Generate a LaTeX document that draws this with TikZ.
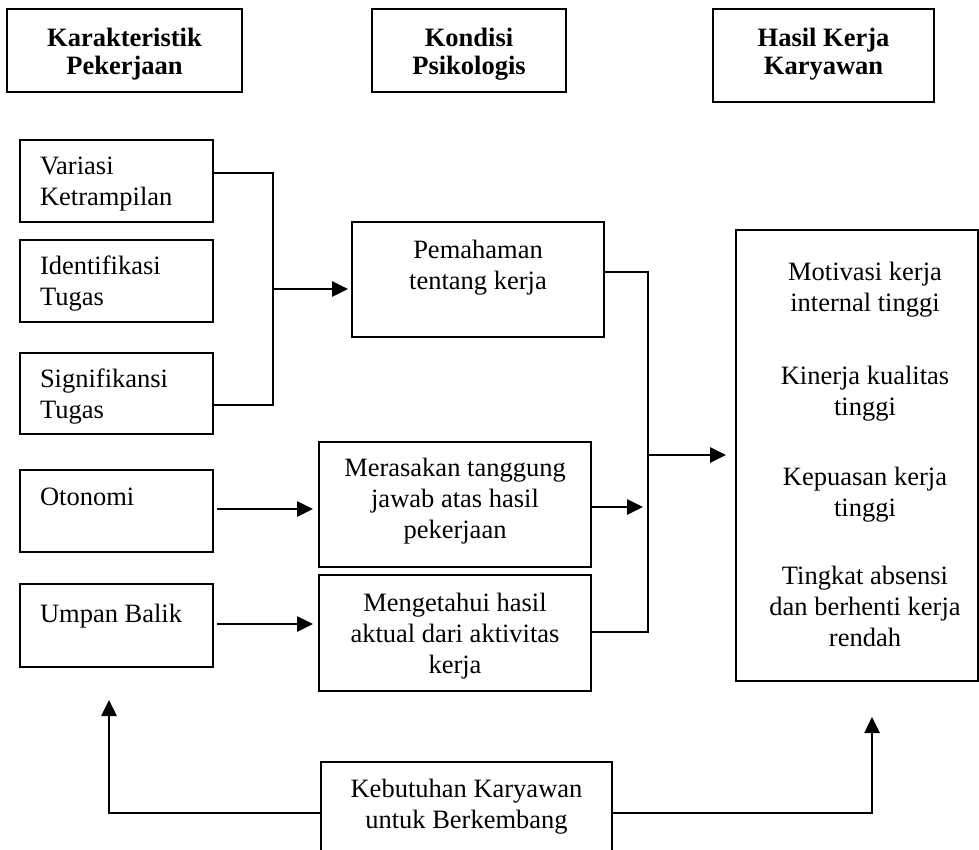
\documentclass[tikz,border=0pt]{standalone}
\usepackage{fontspec}
\setmainfont{Liberation Serif}
\usetikzlibrary{arrows.meta}
\newcommand\fst{\rule{0pt}{20pt}}
\begin{document}
\begin{tikzpicture}[x=1pt,y=-1pt,
  box/.style={draw, line width=2pt, inner sep=0pt, outer sep=0pt, anchor=north west},
  hbox/.style={box, line width=2.5pt},
  txt/.style={inner sep=0pt, outer sep=0pt, font=\fontsize{26.5}{31}\selectfont},
  txtl/.style={txt, align=left, anchor=north west},
  txtc/.style={txt, align=center, anchor=north},
  hdr/.style={inner sep=0pt, outer sep=0pt, align=center, anchor=north, font=\fontsize{26.5}{28}\selectfont\bfseries},
  conn/.style={line width=2pt},
  arr/.style={line width=2.6pt, -{Triangle[length=16pt,width=15pt]}}]
\useasboundingbox (0,0) rectangle (979,850);
\clip (0,0) rectangle (979,850);
% header boxes
\node[hbox, minimum width=235pt, minimum height=83pt] (h1) at (7,9) {};
\node[hbox, minimum width=194pt, minimum height=83pt] (h2) at (372,9) {};
\node[hbox, minimum width=221pt, minimum height=93pt] (h3) at (713,9) {};
\node[hdr] (h1t) at (124.5,27) {\fst Karakteristik\\Pekerjaan};
\node[hdr] (h2t) at (469,27) {\fst Kondisi\\Psikologis};
\node[hdr] (h3t) at (823.5,27) {\fst Hasil Kerja\\Karyawan};
% left boxes
\node[box, minimum width=193pt, minimum height=82pt] (var) at (20,140) {};
\node[box, minimum width=193pt, minimum height=82pt] (ide) at (20,240) {};
\node[box, minimum width=193pt, minimum height=81pt] (sig) at (20,353) {};
\node[box, minimum width=193pt, minimum height=82pt] (oto) at (20,470) {};
\node[box, minimum width=193pt, minimum height=83pt] (ump) at (20,584) {};
\node[txtl] (vart) at (40,155) {\fst Variasi\\Ketrampilan};
\node[txtl] (idet) at (40,254) {\fst Identifikasi\\Tugas};
\node[txtl] (sigt) at (40,367) {\fst Signifikansi\\Tugas};
\node[txtl] (otot) at (40,485) {\fst Otonomi};
\node[txtl] (umpt) at (40,602) {\fst Umpan Balik};
% middle boxes
\node[box, minimum width=252pt, minimum height=115pt] (pem) at (352,222) {};
\node[box, minimum width=272pt, minimum height=125pt] (mer) at (319,442) {};
\node[box, minimum width=272pt, minimum height=116pt] (men) at (319,575) {};
\node[txtc] (pemt) at (478,238) {\fst Pemahaman\\tentang kerja};
\node[txtc] (mert) at (455,456) {\fst Merasakan tanggung\\jawab atas hasil\\pekerjaan};
\node[txtc] (ment) at (455,591) {\fst Mengetahui hasil\\aktual dari aktivitas\\kerja};
% outcome box
\node[box, minimum width=242pt, minimum height=451pt] (out) at (736,230) {};
\node[txtc] (outt) at (865,260) {\fst Motivasi kerja\\internal tinggi\\[42pt]Kinerja kualitas\\tinggi\\[39pt]Kepuasan kerja\\tinggi\\[37pt]Tingkat absensi\\dan berhenti kerja\\rendah};
% bottom box (cut by the page edge)
\node[box, minimum width=291pt, minimum height=120pt] (keb) at (321,762) {};
\node[txtc] (kebt) at (466.5,777) {\fst Kebutuhan Karyawan\\untuk Berkembang};
% connectors
\coordinate (bx) at (273,289);
\coordinate (by) at (648,455);
\coordinate (la) at (109,700);
\coordinate (ra) at (872,717);
\draw[conn] ([yshift=-33pt]var.north east) -| (bx) |- ([yshift=-52pt]sig.north east);
\draw[arr, shorten >=4pt] (bx) -- (bx -| pem.west);
\draw[conn] ([yshift=-50pt]pem.north east) -| (by) |- ([yshift=-57pt]men.north east);
\draw[arr, shorten >=10pt] (by) -- (by -| out.west);
\draw[arr, shorten <=1pt, shorten >=5pt] ([yshift=-65pt]mer.north east) -- ([yshift=-65pt]mer.north east -| by);
\draw[arr, shorten <=4pt, shorten >=6pt] ([yshift=-39pt]oto.north east) -- ([yshift=-39pt]oto.north east -| mer.west);
\draw[arr, shorten <=4pt, shorten >=6pt] ([yshift=-40pt]ump.north east) -- ([yshift=-40pt]ump.north east -| men.west);
\draw[arr] ([yshift=-51pt]keb.north west) -| (la);
\draw[arr] ([yshift=-51pt]keb.north east) -| (ra);
\end{tikzpicture}
\end{document}
